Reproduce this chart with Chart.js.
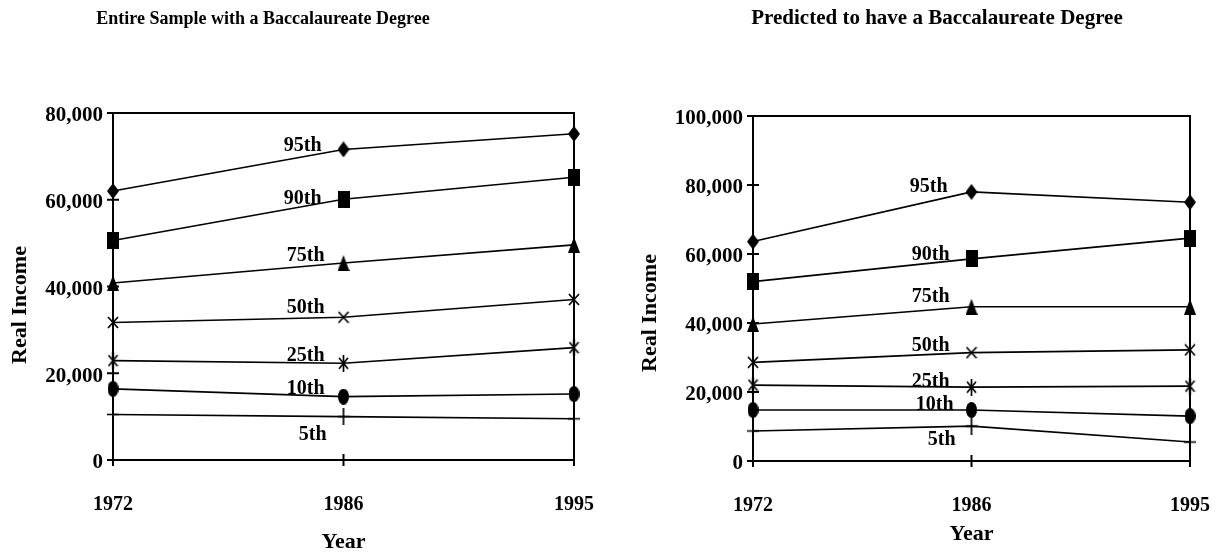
<!DOCTYPE html>
<html>
<head>
<meta charset="utf-8">
<title>Real Income by Percentile</title>
<script src="https://cdn.jsdelivr.net/npm/chart.js@4"></script>
<style>
  html, body { margin: 0; padding: 0; background: #fff; }
  #wrap { position: relative; width: 1224px; height: 553px; overflow: hidden; }
  .panel { position: absolute; top: 0; width: 612px; height: 553px; }
  canvas { display: block; }
</style>
</head>
<body>
<div id="wrap">
  <div class="panel" style="left:0"><canvas id="entire" width="612" height="553"></canvas></div>
  <div class="panel" style="left:612px"><canvas id="predicted" width="612" height="553"></canvas></div>
</div>
<script>
// ---- data ----
const years = ['1972', '1986', '1995'];
const percentileNames = ['95th', '90th', '75th', '50th', '25th', '10th', '5th'];

// Entire sample with a baccalaureate degree: real income at each percentile
const entire95 = [62000, 71600, 75200];
const entire90 = [50600, 60100, 65200];
const entire75 = [40800, 45400, 49600];
const entire50 = [31700, 32900, 37000];
const entire25 = [22900, 22300, 25900];
const entire10 = [16400, 14600, 15200];
const entire5  = [10500, 10000, 9500];

// Predicted to have a baccalaureate degree
const predicted95 = [63600, 78000, 75000];
const predicted90 = [52000, 58600, 64600];
const predicted75 = [39700, 44700, 44700];
const predicted50 = [28600, 31400, 32200];
const predicted25 = [22000, 21400, 21700];
const predicted10 = [14800, 14800, 13000];
const predicted5  = [8700, 10100, 5500];

const entireTickLabels = ['0', '20,000', '40,000', '60,000', '80,000'];
const predictedTickLabels = ['0', '20,000', '40,000', '60,000', '80,000', '100,000'];

// ---- styling ----
const SERIF = "'Liberation Serif', 'Times New Roman', Times, serif";
const markerKinds = ['diamond', 'square', 'triangle', 'cross', 'star', 'ellipse', 'plus'];

function makeMarker(kind) {
  const sizes = {
    diamond: [12, 16], square: [12, 17], triangle: [12, 16],
    cross: [12, 13], star: [11, 17], ellipse: [11, 16], plus: [12, 17]
  };
  const [w, h] = sizes[kind];
  const c = document.createElement('canvas');
  c.width = w; c.height = h;
  const g = c.getContext('2d');
  g.fillStyle = '#000';
  g.strokeStyle = '#000';
  g.lineWidth = 1.7;
  g.beginPath();
  switch (kind) {
    case 'diamond':
      g.moveTo(w / 2, 0); g.lineTo(w, h / 2); g.lineTo(w / 2, h); g.lineTo(0, h / 2);
      g.closePath(); g.fill();
      break;
    case 'square':
      g.rect(0, 0, w, h); g.fill();
      break;
    case 'triangle':
      g.moveTo(w / 2, 0); g.lineTo(w, h); g.lineTo(0, h);
      g.closePath(); g.fill();
      break;
    case 'cross':
      g.moveTo(1, 1); g.lineTo(w - 1, h - 1);
      g.moveTo(w - 1, 1); g.lineTo(1, h - 1);
      g.stroke();
      break;
    case 'star':
      g.moveTo(w / 2, 0); g.lineTo(w / 2, h);
      g.moveTo(1, 3); g.lineTo(w - 1, h - 3);
      g.moveTo(w - 1, 3); g.lineTo(1, h - 3);
      g.stroke();
      break;
    case 'ellipse':
      g.ellipse(w / 2, h / 2, w / 2, h / 2, 0, 0, Math.PI * 2); g.fill();
      break;
    case 'plus':
      g.moveTo(w / 2, 0); g.lineTo(w / 2, h);
      g.moveTo(0, h / 2); g.lineTo(w, h / 2);
      g.stroke();
      break;
  }
  return c;
}
const markers = markerKinds.map(makeMarker);

// box around the plot plus tick marks that cross the axes
const framePlugin = {
  id: 'frame',
  beforeDatasetsDraw(chart) {
    const { ctx, chartArea: a, scales: { x, y } } = chart;
    ctx.save();
    ctx.strokeStyle = '#000';
    ctx.lineWidth = 2;
    ctx.beginPath();
    ctx.moveTo(a.left - 6, a.top);
    ctx.lineTo(a.right, a.top);
    ctx.lineTo(a.right, a.bottom + 6);
    y.ticks.forEach(t => {
      const py = y.getPixelForValue(t.value);
      ctx.moveTo(a.left - 6, py); ctx.lineTo(a.left + 6, py);
    });
    years.forEach((_, i) => {
      const px = x.getPixelForValue(i);
      ctx.moveTo(px, a.bottom - 6); ctx.lineTo(px, a.bottom + 6);
    });
    ctx.stroke();
    ctx.restore();
  }
};

// heading, vertical axis name and the percentile names beside the 1986 points
const notesPlugin = {
  id: 'notes',
  afterDatasetsDraw(chart, args, o) {
    const ctx = chart.ctx;
    ctx.save();
    ctx.fillStyle = '#000';
    ctx.textBaseline = 'middle';

    ctx.textAlign = 'right';
    ctx.font = 'bold 20px ' + SERIF;
    chart.data.datasets.forEach((ds, i) => {
      const p = chart.getDatasetMeta(i).data[1];
      const [dx, dy] = o.shifts[i];
      ctx.fillText(ds.label, p.x - dx, p.y + dy);
    });

    ctx.textAlign = 'center';
    ctx.font = 'bold ' + o.headingSize + 'px ' + SERIF;
    ctx.fillText(o.heading, o.headingX, o.headingY);

    ctx.font = 'bold 22px ' + SERIF;
    ctx.translate(o.axisNameX, o.axisNameY);
    ctx.rotate(-Math.PI / 2);
    ctx.fillText('Real Income', 0, 0);
    ctx.restore();
  }
};

function buildChart(id, series, tickLabels, maxValue, geo, notes) {
  const datasets = series.map((values, i) => ({
    label: percentileNames[i],
    data: values,
    borderColor: '#000',
    borderWidth: 1.6,
    tension: 0,
    pointStyle: markers[i],
    pointRadius: 6,
    pointHoverRadius: 6,
    clip: false
  }));
  return new Chart(document.getElementById(id), {
    type: 'line',
    data: { labels: years, datasets },
    plugins: [framePlugin, notesPlugin],
    options: {
      responsive: false,
      animation: false,
      events: [],
      layout: { padding: { left: 0, right: geo.padRight, top: geo.padTop, bottom: 0 } },
      plugins: {
        legend: { display: false },
        tooltip: { enabled: false },
        notes
      },
      scales: {
        x: {
          type: 'category',
          offset: false,
          grid: { display: false, drawTicks: false },
          border: { display: true, color: '#000', width: 2 },
          ticks: {
            color: '#000', padding: geo.xTickPad,
            font: { family: SERIF, size: 20, weight: 'bold', lineHeight: 1.2 },
            maxRotation: 0, autoSkip: false
          },
          title: {
            display: true, text: 'Year', color: '#000',
            font: { family: SERIF, size: 22, weight: 'bold', lineHeight: 1 },
            padding: { top: 0, bottom: geo.yearPad }
          },
          afterFit(s) {
            s.height = geo.xHeight;
            s.paddingLeft = 0;
            s.paddingRight = 0;
          }
        },
        y: {
          min: 0, max: maxValue,
          grid: { display: false, drawTicks: false },
          border: { display: true, color: '#000', width: 2 },
          ticks: {
            stepSize: 20000, color: '#000', padding: geo.yTickPad, labelOffset: 3,
            font: { family: SERIF, size: 21, weight: 'bold' },
            callback: (v, i) => tickLabels[i]
          },
          afterFit(s) {
            s.width = geo.yWidth;
            s.paddingTop = 0;
            s.paddingBottom = 0;
          }
        }
      }
    }
  });
}

buildChart('entire',
  [entire95, entire90, entire75, entire50, entire25, entire10, entire5],
  entireTickLabels, 80000,
  { padTop: 113, padRight: 38, xHeight: 93, yWidth: 113, xTickPad: 33, yTickPad: 10, yearPad: 0 },
  {
    heading: 'Entire Sample with a Baccalaureate Degree', headingSize: 18, headingX: 263, headingY: 19,
    axisNameX: 20, axisNameY: 305,
    shifts: [[22, -4], [22, 0], [19, -7], [19, -9], [19, -7], [19, -8], [17, 18]]
  });

buildChart('predicted',
  [predicted95, predicted90, predicted75, predicted50, predicted25, predicted10, predicted5],
  predictedTickLabels, 100000,
  { padTop: 116, padRight: 34, xHeight: 92, yWidth: 141, xTickPad: 33, yTickPad: 10, yearPad: 8 },
  {
    heading: 'Predicted to have a Baccalaureate Degree', headingSize: 21, headingX: 325, headingY: 19,
    axisNameX: 38, axisNameY: 313,
    shifts: [[24, -5], [22, -4], [22, -10], [22, -7], [22, -5], [18, -5], [16, 14]]
  });
</script>
</body>
</html>
